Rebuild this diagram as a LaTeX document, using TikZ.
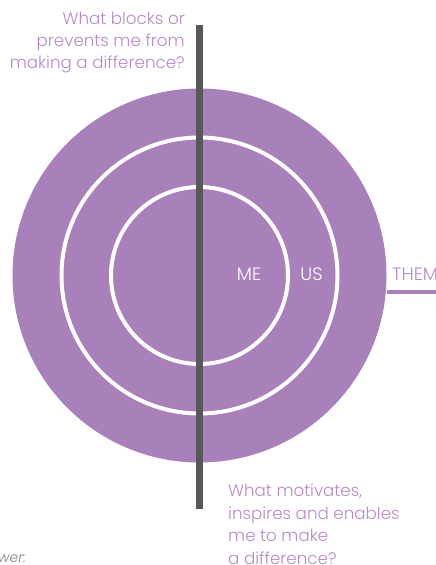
\documentclass[tikz,border=0pt]{standalone}
\usepackage{fontspec}
\setmainfont{Poppins}[UprightFont=*-Light]
\usetikzlibrary{calc}
\definecolor{ringpurple}{HTML}{A981BA}
\definecolor{textpurple}{HTML}{B58CC8}
\definecolor{bargray}{HTML}{58585A}

\begin{document}
\begin{tikzpicture}[x=1pt, y=-1pt]

\useasboundingbox (0,0) rectangle (436,565);
\clip (0,0) rectangle (436,565);

\coordinate (O) at (199.5,275.5);
\coordinate (R) at ($(O)+(187,16.5)$);
\coordinate (E) at (436,292);

\fill[ringpurple] (O) circle (187pt);
\draw[white,line width=4pt] (O) circle (138pt);
\draw[white,line width=4pt] (O) circle (88.5pt);

\draw[bargray,line width=7pt] (199.5,25)--(199.5,509);
\draw[ringpurple,line width=4pt] (R)--(E);

\node[white,font=\fontsize{18}{22}\selectfont] (me) at (249,274.5) {ME};
\node[white,font=\fontsize{18}{22}\selectfont] (us) at (311.5,274.5) {US};
\node[textpurple,anchor=west,inner sep=0,font=\fontsize{18}{22}\selectfont] (them) at (392,274.5) {THEM};

\node[textpurple,anchor=north east,inner sep=0,align=right,font=\fontsize{16.7}{22}\selectfont] (blocks) at (185,12) {What blocks or\\prevents me from\\making a difference?};
\node[textpurple,anchor=north west,inner sep=0,align=left,font=\fontsize{16.7}{22.5}\selectfont] (motivates) at (228,484) {What motivates,\\inspires and enables\\me to make\\a difference?};

\node[gray,anchor=base west,inner sep=0,font=\fontsize{14}{16}\selectfont\itshape] (answer) at (-2,562) {wer:};

\end{tikzpicture}
\end{document}
